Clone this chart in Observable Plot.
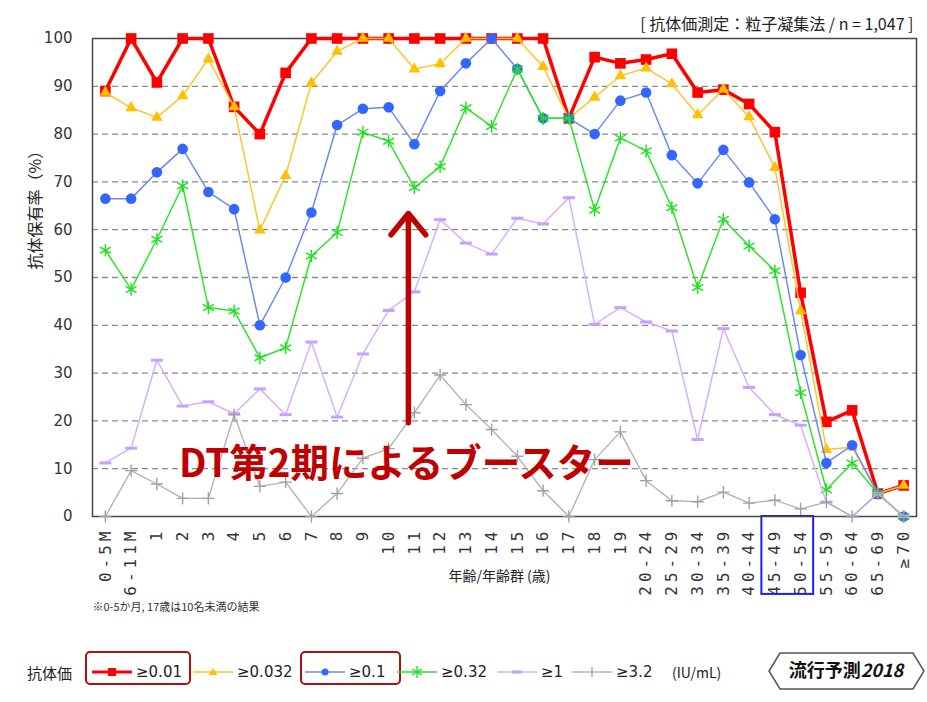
<!DOCTYPE html>
<html><head><meta charset="utf-8">
<script src="https://cdn.jsdelivr.net/npm/d3@7"></script>
<script src="https://cdn.jsdelivr.net/npm/@observablehq/plot@0.6"></script>
<style>
body{margin:0;background:#fff;}
#wrap{width:927px;}
#legend{position:relative;width:927px;height:72px;font-family:"DejaVu Sans",sans-serif;color:#222;}
.item{position:absolute;top:32px;height:20px;display:flex;align-items:center;font-size:15px;white-space:nowrap;}
.item svg{margin-right:4px;}
.box{position:absolute;top:21px;height:34px;border:2px solid #b01010;border-radius:5px;box-sizing:border-box;}
</style></head><body><div id="wrap"><div id="chart"></div><div id="legend"></div></div>
<script>
// ---- data ----
const ages = ["0-5M","6-11M","1","2","3","4","5","6","7","8","9","10","11","12","13","14","15","16","17","18","19","20-24","25-29","30-34","35-39","40-44","45-49","50-54","55-59","60-64","65-69","≥70"];
const ab001  = [89.0,100,90.8,100,100,85.7,80.0,92.8,100,100,100,100,100,100,100,100,100,100,83.3,96.1,94.8,95.6,96.8,88.7,89.3,86.3,80.4,46.8,19.8,22.2,4.8,6.5];
const ab0032 = [88.7,85.5,83.5,88.0,95.7,85.7,59.9,71.3,90.7,97.3,100,100,93.6,94.7,100,100,100,94.1,83.3,87.7,92.2,93.8,90.5,84.0,89.4,83.6,73.0,43.0,14.0,14.5,4.8,6.5];
const ab01   = [66.5,66.5,72.0,76.9,67.9,64.3,40.0,50.0,63.6,81.9,85.3,85.6,77.9,89.0,94.8,100,93.6,83.3,83.3,80.0,87.0,88.7,75.6,69.7,76.7,69.9,62.2,33.8,11.2,14.9,4.8,0];
const ab032  = [55.7,47.5,58.0,69.2,43.7,43.0,33.2,35.3,54.5,59.4,80.4,78.5,68.8,73.2,85.5,81.6,93.6,83.3,83.3,64.1,79.2,76.5,64.6,47.9,62.2,56.6,51.4,25.9,5.6,11.2,4.8,0];
const ab1    = [11.2,14.3,32.7,23.1,24.0,21.5,26.7,21.3,36.5,20.8,34.0,43.1,47.0,62.1,57.2,54.9,62.4,61.2,66.7,40.2,43.7,40.7,38.8,16.1,39.3,27.0,21.3,19.1,3.0,0,4.8,0];
const ab32   = [0,9.6,6.8,3.8,3.8,21.3,6.3,7.2,0,4.8,12.2,14.2,21.7,29.6,23.4,18.2,12.6,5.4,0,11.9,17.7,7.5,3.3,3.1,5.1,2.8,3.4,1.6,3.0,0,4.8,0];
const seriesLabels = ["≥0.01","≥0.032","≥0.1","≥0.32","≥1","≥3.2"];
const yTicks = [0,10,20,30,40,50,60,70,80,90,100];
const gridVals = [10,20,30,40,50,60,70,80,90];
const titleText = "[ 抗体価測定：粒子凝集法 / n = 1,047 ]";
const yLabel = "抗体保有率（%）";
const xLabel = "年齢/年齢群 (歳)";
const noteText = "※0-5か月, 17歳は10名未満の結果";
const annText = "DT第2期によるブースター";
const annAge = "11", annY = 10.8, arrowFrom = 19.6, arrowTo = 63.4;
const boxAges = ["45-49","50-54"];

// ---- styles ----
const dashSymbol = {draw(ctx){ ctx.rect(-6,-1.5,12,3); }};
const defs = [
  {values:ab001,  color:"#ff0000", line:"#ff0000", lw:3.5, symbol:"square",   r:6,   fill:true},
  {values:ab0032, color:"#ffc000", line:"#ffc52a", lw:1.5, symbol:"triangle", r:4.3, fill:true},
  {values:ab01,   color:"#3366ff", line:"#6a8cf2", lw:1.5, symbol:"circle",   r:5.3, fill:true},
  {values:ab032,  color:"#1ee01e", line:"#2ae62a", lw:1.5, symbol:"asterisk", r:6,   fill:false},
  {values:ab1,    color:"#c8a0ff", line:"#d4b2ff", lw:1.5, symbol:dashSymbol, r:4,   fill:true},
  {values:ab32,   color:"#a0a0a0", line:"#b0b0b0", lw:1.3, symbol:"plus",     r:4,   fill:false}
];
const CJK = "'Noto Sans CJK JP', sans-serif";

const seriesMarks = defs.flatMap(s => {
  const d = ages.map((a,i)=>({age:a, v:s.values[i]}));
  return [
    Plot.line(d, {x:"age", y:"v", stroke:s.line, strokeWidth:s.lw}),
    s.fill
      ? Plot.dot(d, {x:"age", y:"v", symbol:s.symbol, r:s.r, fill:s.color, stroke:"none"})
      : Plot.dot(d, {x:"age", y:"v", symbol:s.symbol, r:s.r, stroke:s.color, strokeWidth:1.4, fill:"none"})
  ];
});

const chart = Plot.plot({
  width:927, height:630,
  marginTop:38, marginBottom:114, marginLeft:92, marginRight:11,
  style:{fontFamily:"'DejaVu Sans', sans-serif", fontSize:"15px", color:"#333", background:"#fff"},
  x:{type:"point", domain:ages, padding:0.5, round:false},
  y:{domain:[0,100]},
  marks:[
    Plot.ruleY(gridVals, {stroke:"#8a8a8a", strokeWidth:1.3, strokeDasharray:"6,4"}),
    Plot.axisY({ticks:yTicks, tickSize:0, tickPadding:20, fontSize:15, label:null}),
    Plot.axisX({tickSize:0, tickRotate:-90, tickPadding:11, fontSize:16, fontFamily:"'DejaVu Sans Mono', monospace", label:null}),
    Plot.rect([0], {x1:()=>boxAges[0], x2:()=>boxAges[1], y1:()=>0, y2:()=>-16.3, insetLeft:-13, insetRight:-13, stroke:"#1c1cff", strokeWidth:2, fill:"none"}),
    Plot.frame({stroke:"#444", strokeWidth:1.5}),
    ...seriesMarks,
    Plot.arrow([0], {x1:()=>annAge, x2:()=>annAge, y1:()=>arrowFrom, y2:()=>arrowTo, dx:-6, stroke:"#c00000", strokeWidth:5.5, headLength:7.5, headAngle:78}),
    Plot.text([annText], {x:()=>annAge, y:()=>annY, text:d=>d, dx:-8, fontSize:38.5, fontWeight:"bold", fill:"#c00000", fontFamily:CJK}),
    Plot.text([titleText], {frameAnchor:"top-right", text:d=>d, dy:-20, dx:-3, textAnchor:"end", fontSize:16, fill:"#222", fontFamily:CJK}),
    Plot.text([yLabel], {frameAnchor:"left", text:d=>d, dx:-57, dy:-8, rotate:-90, fontSize:16, fill:"#222", fontFamily:CJK}),
    Plot.text([xLabel], {frameAnchor:"bottom", text:d=>d, dx:-5, dy:64, fontSize:14, fill:"#222", fontFamily:CJK}),
    Plot.text([noteText], {frameAnchor:"bottom-left", text:d=>d, dy:94, textAnchor:"start", fontSize:11, fill:"#333", fontFamily:CJK})
  ]
});
d3.select(chart).selectAll('g[aria-label="x-axis tick label"] text').style("letter-spacing","4px");
document.getElementById("chart").appendChild(chart);

// ---- legend ----
function swatch(i){
  const s = defs[i];
  let m = "";
  if (i===0) m = `<rect x="16" y="4" width="8" height="8" fill="${s.color}"/>`;
  if (i===1) m = `<polygon points="20,4 24.5,11 15.5,11" fill="${s.color}"/>`;
  if (i===2) m = `<circle cx="20" cy="8" r="3.5" fill="${s.color}"/>`;
  if (i===3) m = `<g stroke="${s.color}" stroke-width="1.4"><line x1="20" y1="2" x2="20" y2="14"/><line x1="15" y1="5" x2="25" y2="11"/><line x1="15" y1="11" x2="25" y2="5"/></g>`;
  if (i===4) m = `<rect x="15" y="6.5" width="10" height="3" fill="${s.color}"/>`;
  if (i===5) m = `<g stroke="${s.color}" stroke-width="1.3"><line x1="20" y1="3" x2="20" y2="13"/></g>`;
  return `<svg width="40" height="16"><line x1="0" y1="8" x2="40" y2="8" stroke="${s.line}" stroke-width="${i===0?3:1.5}"/>${m}</svg>`;
}
const legendLeft = [92,193,305,397,497,572];
let html = `<div class="item" style="left:27px;font-family:${CJK};">抗体価</div>`;
html += `<div class="box" style="left:85px;width:106px;"></div><div class="box" style="left:300px;width:101px;"></div>`;
seriesLabels.forEach((lab,i)=>{ html += `<div class="item" style="left:${legendLeft[i]}px;">${swatch(i)}${lab}</div>`; });
html += `<div class="item" style="left:672px;font-family:${CJK};font-size:14px;">(IU/mL)</div>`;
html += `<svg style="position:absolute;left:768px;top:22px;" width="158" height="40"><polygon points="1,19 12,1 145,1 156,19 145,37 12,37" fill="#fff" stroke="#555" stroke-width="1.5"/><text x="78" y="25" text-anchor="middle" font-family="${CJK}" font-weight="bold" font-size="18" fill="#111">流行予測<tspan font-style="italic">2018</tspan></text></svg>`;
document.getElementById("legend").innerHTML = html;
</script></body></html>
